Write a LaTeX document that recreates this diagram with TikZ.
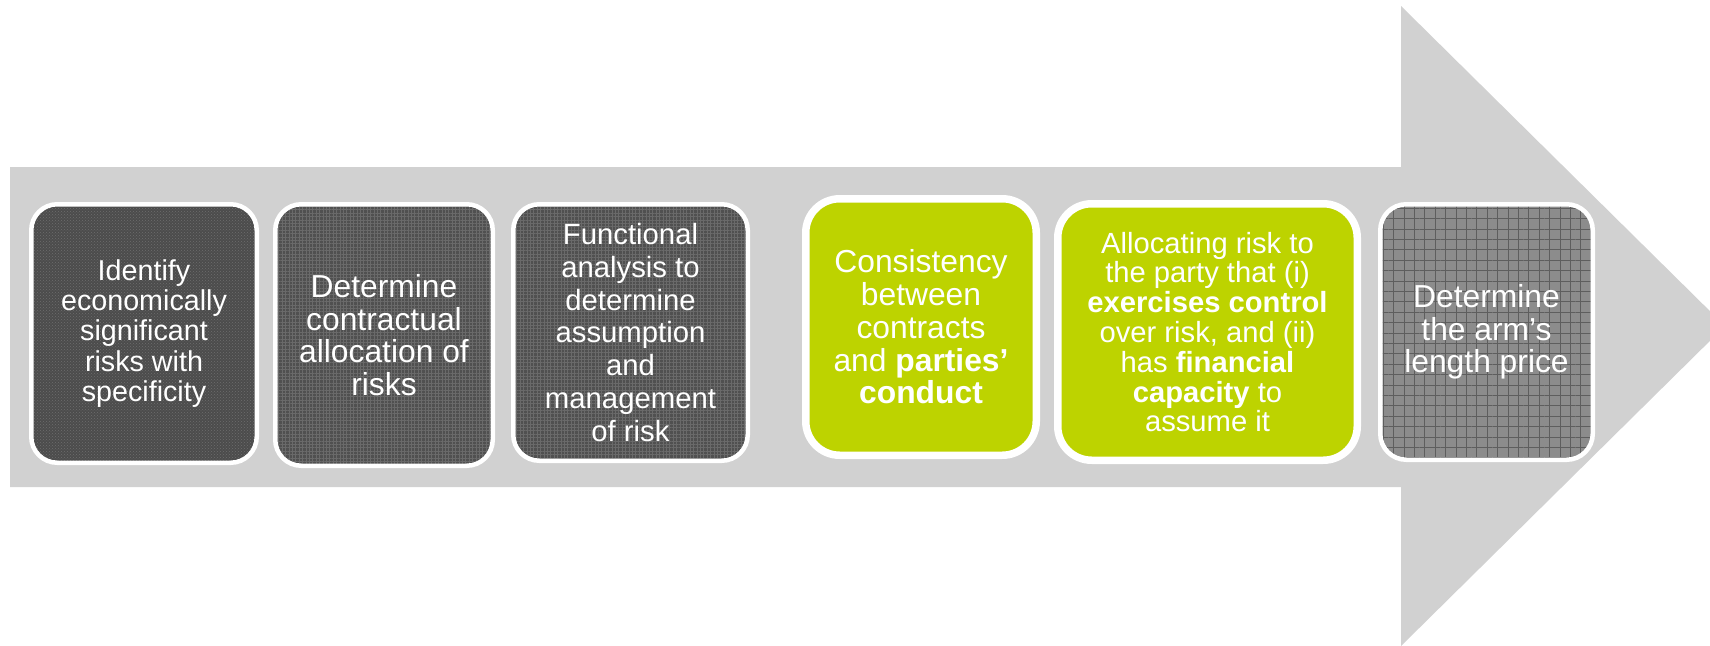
\documentclass[tikz,border=0pt]{standalone}
\usepackage{fontspec}
\setmainfont{Liberation Sans}
\usetikzlibrary{patterns,patterns.meta}
\definecolor{arrowgray}{HTML}{D1D1D1}
\definecolor{lime}{HTML}{BDD300}
\definecolor{darkA}{HTML}{4C4C4C}
\definecolor{dotA}{HTML}{6E6E6E}
\definecolor{darkB}{HTML}{505050}
\definecolor{lineB}{HTML}{6A6A6A}
\definecolor{midC}{HTML}{8C8C8C}
\definecolor{lineC}{HTML}{5E5E5E}
\tikzset{
  stepbox/.style={rounded corners=26pt, draw=white, line width=4.5pt, text=white, align=center, inner sep=0pt},
  greenbox/.style={stepbox, rounded corners=34pt, line width=7.5pt, fill=lime},
  dotbox/.style={preaction={fill=darkA}, pattern=crosshatch dots, pattern color=dotA},
  finebox/.style={preaction={fill=darkB}, pattern={Hatch[distance=3.4pt, line width=0.7pt]}, pattern color=lineB},
  gridbox/.style={preaction={fill=midC}, pattern={Hatch[distance=10.4pt, line width=0.9pt]}, pattern color=lineC},
  bigarrow/.style={fill=arrowgray, draw=none}
}
\begin{document}
\begin{tikzpicture}[x=1pt,y=-1pt]
\useasboundingbox (0,0) rectangle (1710,645);
\begin{scope}
\clip (0,0) rectangle (1710,645);
\fill[bigarrow] (10,167) -- (1401,167) -- (1401,6) -- (1725,326) -- (1401,646) -- (1401,487) -- (10,487) -- cycle;
\end{scope}

\node[stepbox, dotbox, minimum width=225.5pt, minimum height=258.5pt,
  font=\fontsize{28.7}{30.3}\selectfont] (b1) at (144,333.5)
  {Identify\\economically\\significant\\risks with\\specificity};

\node[stepbox, finebox, minimum width=217.5pt, minimum height=261.5pt,
  font=\fontsize{31.8}{32.5}\selectfont] (b2) at (384,335)
  {Determine\\contractual\\allocation of\\risks};

\node[stepbox, finebox, minimum width=234.5pt, minimum height=256.5pt,
  font=\fontsize{29.3}{32.9}\selectfont] (b3) at (630.5,332.5)
  {Functional\\analysis to\\determine\\assumption\\and\\management\\of risk};

\node[greenbox, minimum width=230.5pt, minimum height=256.5pt,
  font=\fontsize{31.8}{32.7}\selectfont] (b4) at (921,327)
  {Consistency\\between\\contracts\\and \textbf{parties’}\\\textbf{conduct}};

\node[greenbox, minimum width=299.5pt, minimum height=256.5pt,
  font=\fontsize{29.2}{29.8}\selectfont] (b5) at (1207.5,332)
  {Allocating risk to\\the party that (i)\\\textbf{exercises control}\\over risk, and (ii)\\has \textbf{financial}\\\textbf{capacity} to\\assume it};

\node[stepbox, gridbox, minimum width=212.5pt, minimum height=255.5pt,
  font=\fontsize{31.8}{32.3}\selectfont] (b6) at (1486.5,332)
  {Determine\\the arm’s\\length price};
\end{tikzpicture}
\end{document}
